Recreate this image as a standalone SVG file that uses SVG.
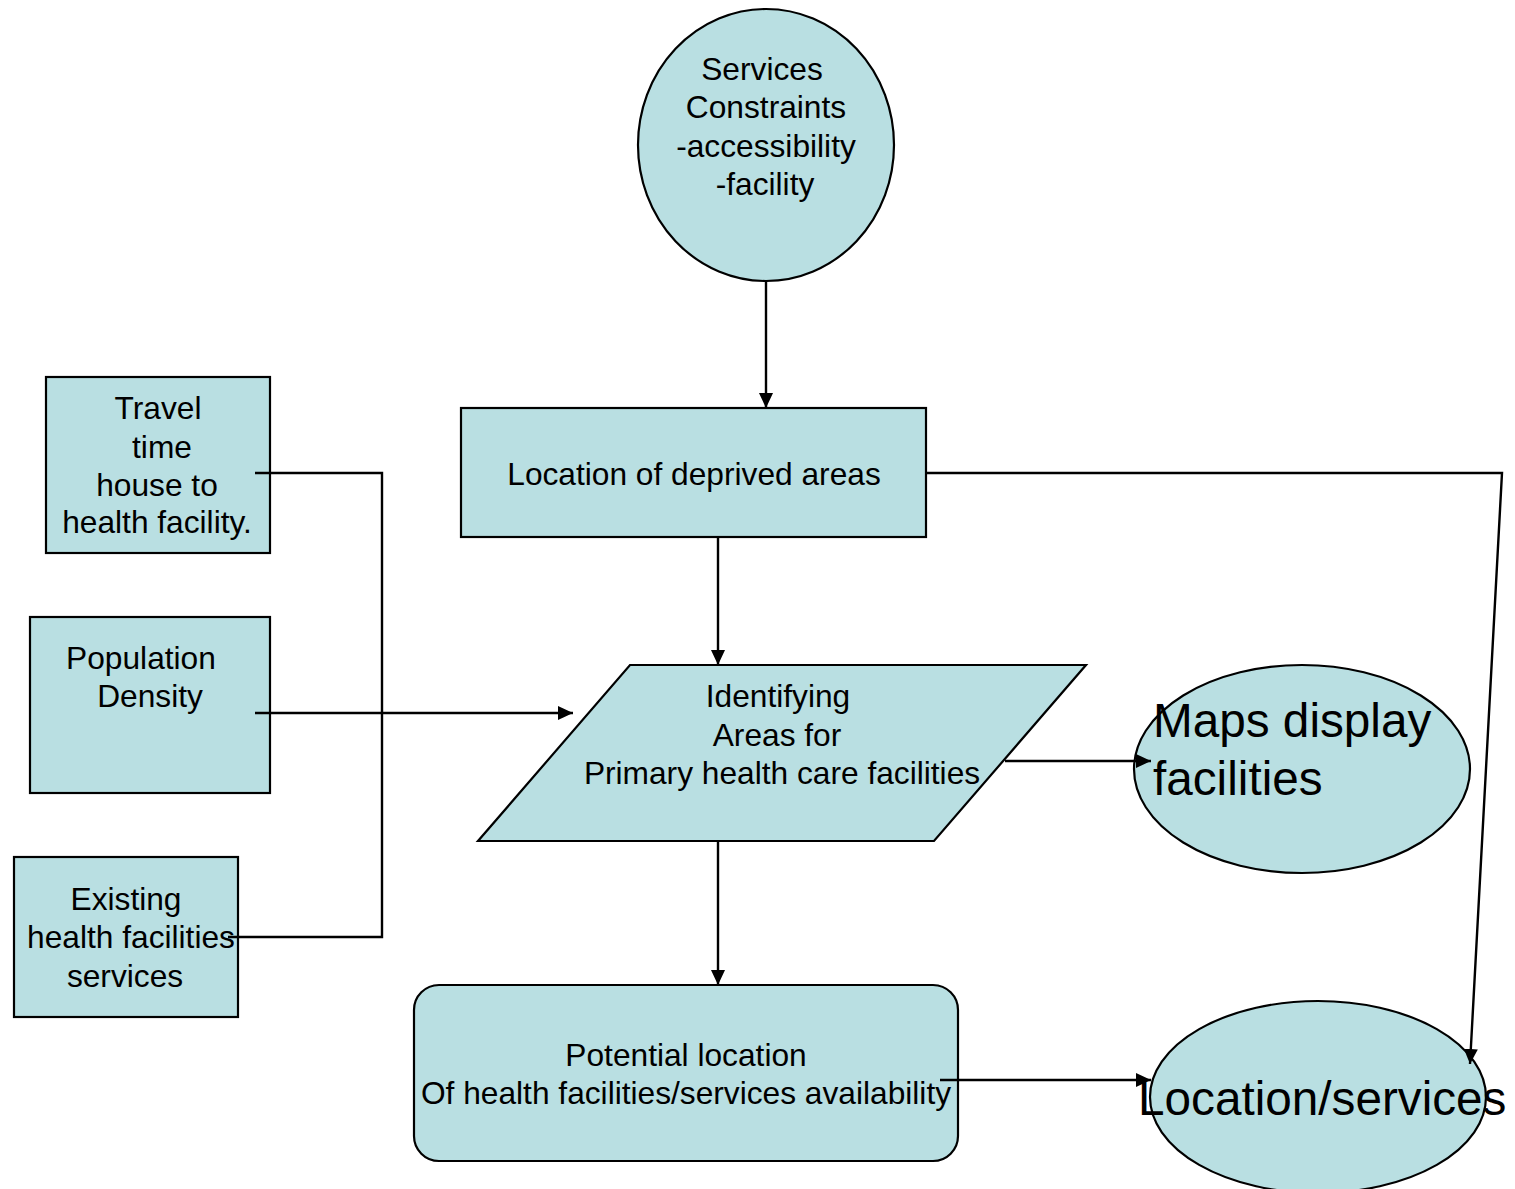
<svg xmlns="http://www.w3.org/2000/svg" width="1515" height="1189" viewBox="0 0 1515 1189">
<style>
.shape{fill:#b9dfe2;stroke:#000;stroke-width:2.2}
.t{font-family:"Liberation Sans",Arial,sans-serif;font-size:31.7px;fill:#000;text-anchor:middle}
.big{font-family:"Liberation Sans",Arial,sans-serif;font-size:47.7px;fill:#000;text-anchor:start}
.c{fill:none;stroke:#000;stroke-width:2.4}
</style>
<defs>
<marker id="arr" markerUnits="userSpaceOnUse" markerWidth="15" markerHeight="14" refX="15" refY="7" orient="auto">
<path d="M0,0 L15,7 L0,14 z" fill="#000"/>
</marker>
</defs>
<rect width="1515" height="1189" fill="#fff"/>
<g id="services-constraints">
<ellipse class="shape" cx="766" cy="145" rx="128" ry="136"/>
<text class="t" x="762" y="80">Services</text>
<text class="t" x="766" y="118">Constraints</text>
<text class="t" x="766" y="157">-accessibility</text>
<text class="t" x="765" y="195">-facility</text>
</g>
<g id="deprived-areas">
<rect class="shape" x="461" y="408" width="465" height="129"/>
<text class="t" x="694" y="485">Location of deprived areas</text>
</g>
<g id="travel-time">
<rect class="shape" x="46" y="377" width="224" height="176"/>
<text class="t" x="158" y="419">Travel</text>
<text class="t" x="162" y="458">time</text>
<text class="t" x="157" y="496">house to</text>
<text class="t" x="157" y="533">health facility.</text>
</g>
<g id="population-density">
<rect class="shape" x="30" y="617" width="240" height="176"/>
<text class="t" x="141" y="669">Population</text>
<text class="t" x="150" y="707">Density</text>
</g>
<g id="existing-facilities">
<rect class="shape" x="14" y="857" width="224" height="160"/>
<text class="t" x="126" y="910">Existing</text>
<text class="t" x="131" y="948">health facilities</text>
<text class="t" x="125" y="987">services</text>
</g>
<g id="identifying-areas">
<polygon class="shape" points="630,665 1086,665 934,841 478,841"/>
<text class="t" x="778" y="707">Identifying</text>
<text class="t" x="777" y="746">Areas for</text>
<text class="t" x="782" y="784">Primary health care facilities</text>
</g>
<g id="potential-location">
<rect class="shape" x="414" y="985" width="544" height="176" rx="25" ry="25"/>
<text class="t" x="686" y="1066">Potential location</text>
<text class="t" x="686" y="1104">Of health facilities/services availability</text>
</g>
<g id="maps-display">
<ellipse class="shape" cx="1302" cy="769" rx="168" ry="104"/>
<text class="big" x="1153" y="737">Maps display</text>
<text class="big" x="1153" y="795">facilities</text>
</g>
<g id="location-services">
<ellipse class="shape" cx="1318" cy="1097" rx="168" ry="96"/>
<text class="big" x="1138" y="1115">Location/services</text>
</g>
<g id="connectors">
<path class="c" d="M766,281 L766,408" marker-end="url(#arr)"/>
<path class="c" d="M718,537 L718,665" marker-end="url(#arr)"/>
<path class="c" d="M718,841 L718,985" marker-end="url(#arr)"/>
<path class="c" d="M255,473 L382,473 L382,937 L228,937"/>
<path class="c" d="M255,713 L573,713" marker-end="url(#arr)"/>
<path class="c" d="M1005,761 L1151,761" marker-end="url(#arr)"/>
<path class="c" d="M940,1080 L1151,1080" marker-end="url(#arr)"/>
<path class="c" d="M926,473 L1502,473 L1470,1064" marker-end="url(#arr)"/>
</g>
</svg>
